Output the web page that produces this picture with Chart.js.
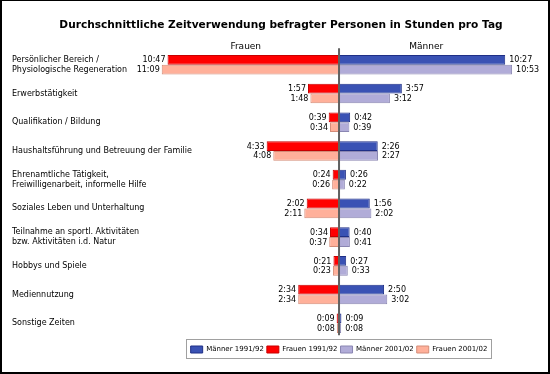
<!DOCTYPE html>
<html>
<head>
<meta charset="utf-8">
<script src="https://cdn.jsdelivr.net/npm/chart.js@4/dist/chart.umd.min.js"></script>
<style>
  html, body { margin: 0; padding: 0; background: #fff; }
  #wrap { width: 550px; height: 374px; position: relative; }
  canvas { display: block; }
</style>
</head>
<body>
<div id="wrap"><canvas id="c" width="550" height="374" style="width:550px;height:374px"></canvas></div>
<script>
// ---- Data ----
const chartTitle = 'Durchschnittliche Zeitverwendung befragter Personen in Stunden pro Tag';
const sideLabels = ['Frauen', 'Männer'];
const categories = [
  ['Persönlicher Bereich /', 'Physiologische Regeneration'],
  'Erwerbstätigkeit',
  'Qualifikation / Bildung',
  'Haushaltsführung und Betreuung der Familie',
  ['Ehrenamtliche Tätigkeit,', 'Freiwilligenarbeit, informelle Hilfe'],
  'Soziales Leben und Unterhaltung',
  ['Teilnahme an sportl. Aktivitäten', 'bzw. Aktivitäten i.d. Natur'],
  'Hobbys und Spiele',
  'Mediennutzung',
  'Sonstige Zeiten'
];
const seriesNames = ['Männer 1991/92', 'Frauen 1991/92', 'Männer 2001/02', 'Frauen 2001/02'];
const maenner1991 = ['10:27', '3:57', '0:42', '2:26', '0:26', '1:56', '0:40', '0:27', '2:50', '0:09'];
const frauen1991  = ['10:47', '1:57', '0:39', '4:33', '0:24', '2:02', '0:34', '0:21', '2:34', '0:09'];
const maenner2001 = ['10:53', '3:12', '0:39', '2:27', '0:22', '2:02', '0:41', '0:33', '3:02', '0:08'];
const frauen2001  = ['11:09', '1:48', '0:34', '4:08', '0:26', '2:11', '0:37', '0:23', '2:34', '0:08'];

// ---- helpers ----
const toMin = s => { const [h, m] = s.split(':').map(Number); return h * 60 + m; };
const fmt = v => { const a = Math.round(Math.abs(v)); return Math.floor(a / 60) + ':' + String(a % 60).padStart(2, '0'); };
const FONT = "'DejaVu Sans', Verdana, sans-serif";
const Y_AXIS_WIDTH = 136.2;

const datasets = [
  { label: seriesNames[0], data: maenner1991.map(toMin), stack: '1991',
    backgroundColor: '#3a52b4', borderColor: '#1f2f86' },
  { label: seriesNames[1], data: frauen1991.map(s => -toMin(s)), stack: '1991',
    backgroundColor: '#ff0000', borderColor: '#c80000' },
  { label: seriesNames[2], data: maenner2001.map(toMin), stack: '2001',
    backgroundColor: '#b1acd8', borderColor: '#8a86b2' },
  { label: seriesNames[3], data: frauen2001.map(s => -toMin(s)), stack: '2001',
    backgroundColor: '#ffb09a', borderColor: '#d48c78' }
].map(d => Object.assign(d, { borderWidth: 1, categoryPercentage: 0.68, barPercentage: 1.0 }));

const framePlugin = {
  id: 'frame',
  beforeDraw(chart) {
    const c = chart.ctx;
    c.save(); c.fillStyle = '#fff'; c.fillRect(0, 0, chart.width, chart.height); c.restore();
  },
  afterLayout(chart) {
    // center the legend on the zero line
    const lg = chart.legend, x0 = chart.scales.x.getPixelForValue(0);
    const w = lg.right - lg.left, dx = x0 - (lg.left + lg.right) / 2;
    lg.left += dx; lg.right += dx; lg.width = w;
  },
  afterDatasetsDraw(chart) {
    const c = chart.ctx, xs = chart.scales.x, ca = chart.chartArea;
    const x0 = xs.getPixelForValue(0);
    c.save();
    // zero line
    c.strokeStyle = '#606060'; c.lineWidth = 2;
    c.beginPath(); c.moveTo(x0, ca.top - 2); c.lineTo(x0, ca.bottom - 2.5); c.stroke();
    // value labels
    c.font = '8px ' + FONT; c.fillStyle = '#000'; c.textBaseline = 'middle';
    chart.data.datasets.forEach((ds, di) => {
      const meta = chart.getDatasetMeta(di);
      meta.data.forEach((el, i) => {
        const v = ds.data[i];
        if (v < 0) { c.textAlign = 'right'; c.fillText(fmt(v), el.x - 2, el.y + 0.5); }
        else { c.textAlign = 'left'; c.fillText(fmt(v), el.x + 4, el.y + 0.5); }
      });
    });
    // side headers
    c.font = '9px ' + FONT; c.textAlign = 'center';
    c.fillText(sideLabels[0], xs.getPixelForValue(-352), ca.top - 3.6);
    c.fillText(sideLabels[1], xs.getPixelForValue(329), ca.top - 3.6);
    c.restore();
  },
  afterDraw(chart) {
    const c = chart.ctx, lg = chart.legend;
    c.save();
    // legend frame
    const hb = lg.legendHitBoxes;
    if (hb && hb.length) {
      const l = hb[0].left - 5, r = hb[hb.length - 1].left + hb[hb.length - 1].width + 3;
      const t = hb[0].top - 7, b = hb[0].top + 11.7;
      c.strokeStyle = '#a0a0a0'; c.lineWidth = 1;
      c.strokeRect(Math.round(l) + 0.5, Math.round(t) + 0.5, Math.round(r - l), Math.round(b - t));
    }
    // outer black border
    c.fillStyle = '#000';
    c.fillRect(0, 0, chart.width, 1);
    c.fillRect(0, 0, 2, chart.height);
    c.fillRect(chart.width - 2, 0, 2, chart.height);
    c.fillRect(0, chart.height - 2, chart.width, 2);
    c.restore();
  }
};

new Chart(document.getElementById('c'), {
  type: 'bar',
  data: { labels: categories, datasets },
  options: {
    indexAxis: 'y',
    responsive: false,
    animation: false,
    devicePixelRatio: 1,
    layout: { padding: { left: 12, right: 0, top: 8, bottom: 11 } },
    scales: {
      x: { stacked: true, display: false, min: -720, max: 796 },
      y: {
        grid: { display: false, drawTicks: false }, border: { display: false },
        afterFit: s => { s.width = Y_AXIS_WIDTH; },
        ticks: { autoSkip: false, mirror: true, padding: -Y_AXIS_WIDTH, color: '#000',
                 font: { family: FONT, size: 8, lineHeight: 1.25 } }
      }
    },
    plugins: {
      tooltip: { enabled: false },
      title: {
        display: true, text: chartTitle, color: '#000',
        font: { family: FONT, size: 10.6, weight: 'bold', lineHeight: 1.2 },
        padding: { top: 11.2, bottom: 18.4 }
      },
      legend: {
        position: 'bottom', fullSize: false,
        title: { display: true, text: '', font: { size: 1 }, padding: { top: 0, bottom: 4.1 } },
        labels: { boxWidth: 12, boxHeight: 7, padding: 3, color: '#000',
                  font: { family: FONT, size: 7 } }
      }
    }
  },
  plugins: [framePlugin]
});
</script>
</body>
</html>
